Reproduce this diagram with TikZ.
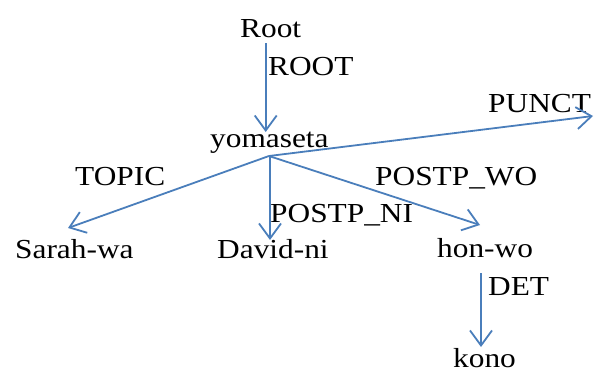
\documentclass[tikz,border=0pt]{standalone}
\usepackage{fontspec}
\setmainfont{Liberation Serif}[FakeStretch=1.14]
\usetikzlibrary{arrows.meta}
\definecolor{edgeblue}{HTML}{4A7EBB}
\begin{document}
\begin{tikzpicture}[x=1pt,y=-1pt,
  word/.style={inner sep=0pt,anchor=base west,font=\fontsize{27.5}{33}\selectfont},
  rel/.style={word},
  dep/.style={draw=edgeblue,line width=1.8pt,-{Straight Barb[length=15pt,width=22pt]}}]
\useasboundingbox (0,0) rectangle (602,372);

% words of the sentence
\node[word] (root)     at (240,37)  {Root};
\node[word] (yomaseta) at (210,147) {yomaseta};
\node[word] (sarah)    at (15,258)  {Sarah-wa};
\node[word] (david)    at (217,258) {David-ni};
\node[word] (honwo)    at (437,257) {hon-wo};
\node[word] (kono)     at (453,367) {kono};

% dependency relation labels
\node[rel] (lroot)   at (268,75)  {ROOT};
\node[rel] (lpunct)  at (488,112) {PUNCT};
\node[rel] (ltopic)  at (75,185)  {TOPIC};
\node[rel] (lpostwo) at (375,185) {POSTP\_WO};
\node[rel] (lpostni) at (270,222) {POSTP\_NI};
\node[rel] (ldet)    at (488,295) {DET};

% attachment points of the arcs
\coordinate (root-out)  at (265.7,43);
\coordinate (yom-in)    at (265.7,132);
\coordinate (yom-out)   at (269,156);
\coordinate (punct-end) at (593,116);
\coordinate (sarah-in)  at (68,228);
\coordinate (david-top) at (270,157);
\coordinate (david-in)  at (270,240);
\coordinate (hon-in)    at (480,225);
\coordinate (hon-out)   at (481,273);
\coordinate (kono-in)   at (481,347);

% dependency arcs
\draw[dep] (root-out) -- (yom-in);
\draw[dep] (yom-out) -- (punct-end);
\draw[dep] (yom-out) -- (sarah-in);
\draw[dep] (david-top) -- (david-in);
\draw[dep] (yom-out) -- (hon-in);
\draw[dep] (hon-out) -- (kono-in);
\end{tikzpicture}
\end{document}
